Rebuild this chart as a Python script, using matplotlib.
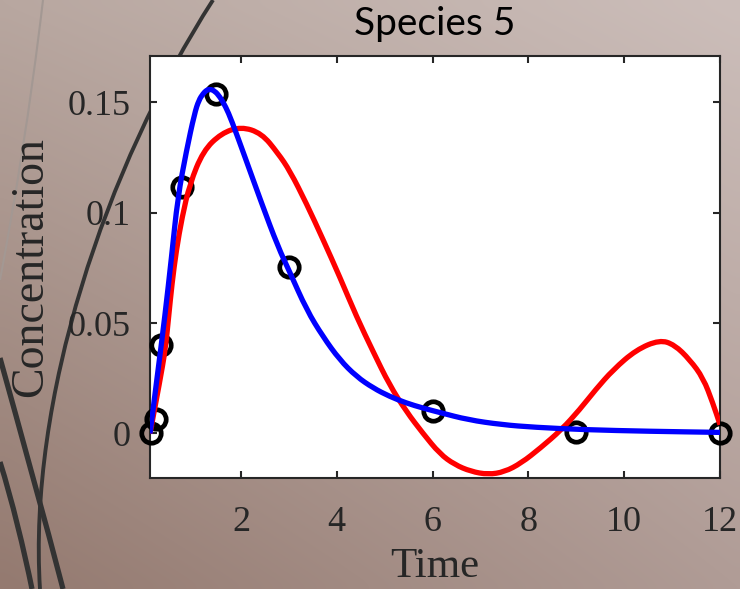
import numpy as np
import matplotlib
matplotlib.use("Agg")
import matplotlib.pyplot as plt
from matplotlib.path import Path
from matplotlib.patches import PathPatch

# observed data (circles)
t_obs = [0.13, 0.22, 0.32, 0.77, 1.47, 3.0, 6.0, 9.0, 12.0]
y_obs = [0.0, 0.0066, 0.040, 0.1118, 0.154, 0.0756, 0.0104, 0.0009, 0.0]

# red fit
t_red = [0.10, 0.30, 0.42, 0.49, 0.56, 0.65, 0.77, 0.93, 1.21, 1.59, 2.00, 2.43,
         2.77, 3.02, 3.37, 3.71, 4.06, 4.41, 4.76, 5.10, 5.45, 5.80, 6.15, 6.46,
         6.80, 7.16, 7.50, 7.85, 8.25, 8.69, 9.07, 9.40, 9.77, 10.25, 10.74,
         11.05, 11.37, 11.65, 11.85, 12.00]
y_red = [0.000, 0.023, 0.038, 0.053, 0.068, 0.083, 0.098, 0.113, 0.128, 0.136,
         0.139, 0.136, 0.127, 0.119, 0.104, 0.088, 0.071, 0.053, 0.037, 0.022,
         0.010, 0.000, -0.0092, -0.0141, -0.0172, -0.0186, -0.0174, -0.0134,
         -0.0066, 0.0017, 0.0108, 0.0198, 0.0289, 0.0379, 0.0424, 0.0402,
         0.0334, 0.0251, 0.0138, 0.004]

# blue model curve
t_blue = [0.10, 0.27, 0.41, 0.55, 0.68, 0.86, 1.03, 1.12, 1.21, 1.28, 1.35, 1.45,
          1.56, 1.68, 1.80, 2.08, 2.43, 2.77, 3.02, 3.37, 3.71, 4.06, 4.41, 4.76,
          5.10, 5.45, 5.80, 6.15, 6.74, 7.44, 8.13, 9.18, 10.5, 12.0]
y_blue = [0.000, 0.029, 0.053, 0.080, 0.107, 0.128, 0.145, 0.151, 0.154, 0.1555,
          0.156, 0.1552, 0.1525, 0.148, 0.142, 0.1254, 0.1043, 0.0847, 0.073,
          0.056, 0.0439, 0.0334, 0.0258, 0.0206, 0.0168, 0.0138, 0.0115, 0.0095,
          0.0062, 0.004, 0.0028, 0.0017, 0.001, 0.0005]

xticks = [2, 4, 6, 8, 10, 12]
yticks = [0, 0.05, 0.1, 0.15]
ytick_labels = ["0", "0.05", "0.1", "0.15"]


def smooth_path(xs, ys):
    # quadratic B-spline style path using the read points as control points
    pts = list(zip(xs, ys))
    verts = [pts[0]]
    codes = [Path.MOVETO]
    mid = lambda a, b: ((a[0] + b[0]) / 2, (a[1] + b[1]) / 2)
    verts.append(mid(pts[0], pts[1]))
    codes.append(Path.LINETO)
    for i in range(1, len(pts) - 1):
        verts += [pts[i], mid(pts[i], pts[i + 1])]
        codes += [Path.CURVE3, Path.CURVE3]
    verts.append(pts[-1])
    codes.append(Path.LINETO)
    return Path(verts, codes)


W, H = 740, 589
fig = plt.figure(figsize=(W / 100, H / 100), dpi=100)

# slide background: gradient plus a few dark strokes
bg = fig.add_axes([0, 0, 1, 1], zorder=-10)
tl = np.array([184, 167, 160]) / 255
tr = np.array([204, 190, 186]) / 255
bl = np.array([148, 122, 112]) / 255
br = np.array([176, 156, 150]) / 255
u = np.linspace(0, 1, 80)[None, :, None]
v = np.linspace(0, 1, 64)[:, None, None]
img = (1 - u) * (1 - v) * tl + u * (1 - v) * tr + (1 - u) * v * bl + u * v * br
bg.imshow(img, extent=[0, W, H, 0], aspect="auto", interpolation="bicubic")

strokes = [
    ([(213, 0), (105, 168), (28, 400), (40, 589)], "#333333", 2.8),
    ([(43, 0), (30, 110), (15, 200), (0, 280)], "#a39893", 1.5),
    ([(0, 358), (20, 430), (45, 520), (63, 589)], "#333333", 3.8),
    ([(0, 462), (12, 500), (24, 550), (32, 589)], "#333333", 3.8),
]
for pts, col, lw in strokes:
    p = Path(pts, [Path.MOVETO, Path.CURVE4, Path.CURVE4, Path.CURVE4])
    bg.add_patch(PathPatch(p, facecolor="none", edgecolor=col, lw=lw))
bg.set_xlim(0, W)
bg.set_ylim(H, 0)
bg.axis("off")

ax = fig.add_axes([150 / W, 1 - 478.3 / H, 570 / W, 422.3 / H])
ax.set_facecolor("white")
ax.plot(t_obs, y_obs, "o", mfc="none", mec="black", ms=14, mew=3.4,
        clip_on=False, zorder=3)
ax.add_patch(PathPatch(smooth_path(t_red, y_red), facecolor="none",
                       edgecolor="red", lw=3.8, capstyle="butt", zorder=3.1))
ax.add_patch(PathPatch(smooth_path(t_blue, y_blue), facecolor="none",
                       edgecolor="blue", lw=3.8, capstyle="butt", zorder=3.2))

ax.set_xlim(0.1, 12)
ax.set_ylim(-0.0203, 0.171)
ax.set_xticks(xticks)
ax.set_yticks(yticks)
ax.set_yticklabels(ytick_labels)
ax.tick_params(direction="in", length=5, width=1.5, top=True, right=True,
               labelsize=26, pad=14, colors="#262626")
ax.tick_params(axis="x", pad=20)
for lab in ax.get_xticklabels() + ax.get_yticklabels():
    lab.set_fontfamily("Liberation Serif")
for s in ax.spines.values():
    s.set_color("#262626")
    s.set_linewidth(1.5)

ax.set_xlabel("Time", fontfamily="Liberation Serif", fontsize=31,
              color="#262626", labelpad=6)
ax.set_ylabel("Concentration", fontfamily="Liberation Serif", fontsize=33,
              color="#262626", labelpad=11)
ax.set_title("Species 5", fontfamily="Lato", fontsize=28, color="black", pad=15)

fig.savefig("out.png", dpi=100)
